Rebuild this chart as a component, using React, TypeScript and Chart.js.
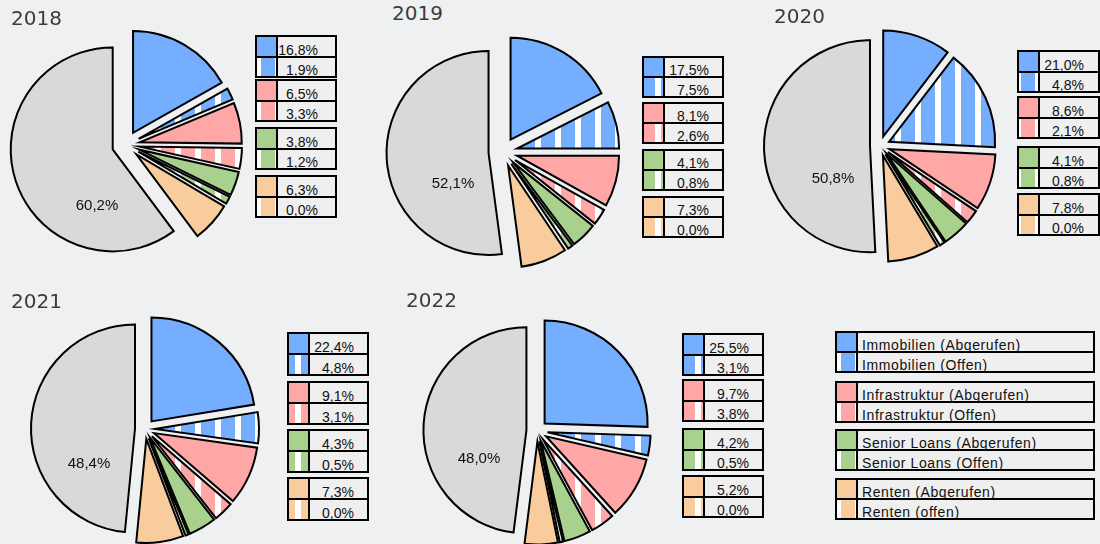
import React, { useEffect, useRef } from 'react';
import { Chart, registerables } from 'chart.js';

Chart.register(...registerables);

// ---------- data ----------
const years = ['2018', '2019', '2020', '2021', '2022'];
const seriesLabels = [
  'Immobilien (Abgerufen)',
  'Immobilien (Offen)',
  'Infrastruktur (Abgerufen)',
  'Infrastruktur (Offen)',
  'Senior Loans (Abgerufen)',
  'Senior Loans (Offen)',
  'Renten (Abgerufen)',
  'Renten (offen)',
];
const restLabel = 'Sonstige';

// values printed in the small legends
const immobilienAbgerufen = [16.8, 17.5, 21.0, 22.4, 25.5];
const immobilienOffen = [1.9, 7.5, 4.8, 4.8, 3.1];
const infraAbgerufen = [6.5, 8.1, 8.6, 9.1, 9.7];
const infraOffen = [3.3, 2.6, 2.1, 3.1, 3.8];
const seniorAbgerufen = [3.8, 4.1, 4.1, 4.3, 4.2];
const seniorOffen = [1.2, 0.8, 0.8, 0.5, 0.5];
const rentenAbgerufen = [6.3, 7.3, 7.8, 7.3, 5.2];
const rentenOffen = [0.0, 0.0, 0.0, 0.0, 0.0];
const rest = [60.2, 52.1, 50.8, 48.4, 48.0];

// the pies as drawn (2020 pie splits Immobilien differently from its legend)
const pieImmobilienAbgerufen = [16.8, 17.5, 10.4, 22.4, 25.5];
const pieImmobilienOffen = [1.9, 7.5, 15.4, 4.8, 3.1];

// ---------- styles ----------
const BG = '#eff0f2';
const BLUE = '#75aeff';
const PINK = '#ffa7a7';
const GREEN = '#a9d18e';
const ORANGE = '#f8cc9c';
const GREY = '#d9d9d9';
const groupColors = [BLUE, PINK, GREEN, ORANGE];

type Layout = {
  cx: number; cy: number; r: number; d: number;
  titleX: number; titleY: number;
  legX: number; legW: number; legYs: number[]; legH: number; pad: number;
  labX: number; labY: number;
};

const layouts: Layout[] = [
  { cx: 126, cy: 145, r: 102, d: 14, titleX: 11, titleY: 8, legX: 255, legW: 82, legYs: [35, 79, 127, 175], legH: 43, pad: 17, labX: 97, labY: 204 },
  { cx: 503, cy: 152, r: 102, d: 14.5, titleX: 392, titleY: 3, legX: 642, legW: 82, legYs: [56, 102, 149, 196], legH: 42, pad: 13, labX: 453, labY: 182 },
  { cx: 880, cy: 146, r: 106, d: 10, titleX: 774, titleY: 6, legX: 1017, legW: 83, legYs: [50, 96, 146, 193], legH: 43, pad: 14, labX: 833, labY: 177 },
  { cx: 145, cy: 429, r: 104, d: 10, titleX: 11, titleY: 291, legX: 287, legW: 82, legYs: [332, 381, 429, 477], legH: 44, pad: 13, labX: 89, labY: 462 },
  { cx: 537, cy: 431, r: 103, d: 10.6, titleX: 406, titleY: 290, legX: 682, legW: 82, legYs: [333, 379, 428, 475], legH: 43, pad: 13, labX: 479, labY: 457 },
];

const fmt = (v: number) => v.toFixed(1).replace('.', ',') + '%';

const stripeCss = (c: string) => ({
  backgroundImage: `linear-gradient(90deg, #fff 0px, #fff 1px, ${c} 1px, ${c} 15px, #fff 15px, #fff 20px)`,
  backgroundSize: '20px 20px',
  backgroundRepeat: 'repeat',
  backgroundAttachment: 'fixed' as const,
});

function PieChart({ i }: { i: number }) {
  const ref = useRef<HTMLCanvasElement>(null);
  const L = layouts[i];
  const S = 2 * Math.ceil(L.r + L.d + 8);
  const left = Math.round(L.cx - S / 2);
  const top = Math.round(L.cy - S / 2);

  useEffect(() => {
    const canvas = ref.current!;
    const ctx = canvas.getContext('2d')!;
    const stripe = (color: string) => {
      const c = document.createElement('canvas');
      c.width = 20;
      c.height = 4;
      const g = c.getContext('2d')!;
      for (let x = 0; x < 20; x++) {
        const gx = (((x + left) % 20) + 20) % 20;
        g.fillStyle = gx >= 15 || gx < 1 ? '#ffffff' : color;
        g.fillRect(x, 0, 1, 4);
      }
      return ctx.createPattern(c, 'repeat')!;
    };
    const explode = {
      id: 'explode',
      afterDatasetsUpdate(chart: any) {
        const meta = chart.getDatasetMeta(0);
        meta.data.forEach((el: any) => {
          const mid = (el.startAngle + el.endAngle) / 2;
          el.x += Math.cos(mid) * L.d;
          el.y += Math.sin(mid) * L.d;
        });
      },
    };
    const values = [
      pieImmobilienAbgerufen[i], pieImmobilienOffen[i],
      infraAbgerufen[i], infraOffen[i],
      seniorAbgerufen[i], seniorOffen[i],
      rentenAbgerufen[i], rentenOffen[i],
      rest[i],
    ];
    const chart = new Chart(canvas, {
      type: 'pie',
      data: {
        labels: [...seriesLabels, restLabel],
        datasets: [
          {
            data: values,
            backgroundColor: [
              BLUE, stripe(BLUE), PINK, stripe(PINK), GREEN, stripe(GREEN), ORANGE, stripe(ORANGE), GREY,
            ] as any,
            borderColor: '#000000',
            borderWidth: 2,
            borderJoinStyle: 'miter',
            radius: L.r,
          } as any,
        ],
      },
      options: {
        responsive: false,
        animation: false,
        devicePixelRatio: 1,
        events: [],
        layout: { padding: 0 },
        plugins: { legend: { display: false }, tooltip: { enabled: false }, title: { display: false } },
      },
      plugins: [explode],
    });
    return () => chart.destroy();
  }, []);

  return (
    <canvas
      ref={ref}
      width={S}
      height={S}
      style={{ position: 'absolute', left, top, width: S, height: S, zIndex: 1 }}
    />
  );
}

function Group({ x, y, w, h, sw, color, texts, pad, big }: {
  x: number; y: number; w: number; h: number; sw: number; color: string; texts: string[]; pad: number; big?: boolean;
}) {
  const row = (k: number) => (
    <div style={{ flex: 1, display: 'flex', minHeight: 0 }}>
      <div style={{ width: sw, borderRight: '2px solid #000', boxSizing: 'content-box', ...(k === 0 ? { background: color } : stripeCss(color)) }} />
      <div style={{ flex: 1, position: 'relative', background: '#efefef', overflow: 'visible' }}>
        <span
          style={{
            position: 'absolute',
            bottom: -1,
            ...(big ? { left: pad } : { right: pad }),
            font: '14px "Liberation Sans", Arial, sans-serif',
            lineHeight: '14px',
            letterSpacing: big ? '0.6px' : '0px',
            color: '#111',
            whiteSpace: 'nowrap',
          }}
        >
          {texts[k]}
        </span>
      </div>
    </div>
  );
  return (
    <div
      style={{
        position: 'absolute', left: x, top: y, width: w, height: h,
        border: '2px solid #000', boxSizing: 'border-box',
        display: 'flex', flexDirection: 'column', zIndex: 2,
      }}
    >
      {row(0)}
      <div style={{ height: 2, background: '#000' }} />
      {row(1)}
    </div>
  );
}

export default function App() {
  const legendValues = [
    [immobilienAbgerufen, immobilienOffen],
    [infraAbgerufen, infraOffen],
    [seniorAbgerufen, seniorOffen],
    [rentenAbgerufen, rentenOffen],
  ];
  const bigYs = [331, 381, 429, 478];
  return (
    <div
      style={{
        position: 'fixed', left: 0, top: 0, width: 1100, height: 544,
        background: BG, overflow: 'hidden',
      }}
    >
      {years.map((yr, i) => {
        const L = layouts[i];
        return (
          <React.Fragment key={yr}>
            <div
              style={{
                position: 'absolute', left: L.titleX, top: L.titleY,
                font: '20px "DejaVu Sans", sans-serif', lineHeight: '20px', color: '#3c3c3c', zIndex: 2,
              }}
            >
              {yr}
            </div>
            <PieChart i={i} />
            <div
              style={{
                position: 'absolute', left: L.labX, top: L.labY, transform: 'translate(-50%, -50%)',
                font: '15px "Liberation Sans", Arial, sans-serif', lineHeight: '15px', color: '#111', zIndex: 3,
                whiteSpace: 'nowrap',
              }}
            >
              {fmt(rest[i])}
            </div>
            {legendValues.map((pair, g) => (
              <Group
                key={g}
                x={L.legX}
                y={L.legYs[g]}
                w={L.legW}
                h={L.legH}
                sw={19}
                color={groupColors[g]}
                texts={[fmt(pair[0][i]), fmt(pair[1][i])]}
                pad={L.pad}
              />
            ))}
          </React.Fragment>
        );
      })}
      {groupColors.map((c, g) => (
        <Group
          key={'big' + g}
          x={835}
          y={bigYs[g]}
          w={260}
          h={42}
          sw={19}
          color={c}
          texts={[seriesLabels[g * 2], seriesLabels[g * 2 + 1]]}
          pad={4}
          big
        />
      ))}
    </div>
  );
}
